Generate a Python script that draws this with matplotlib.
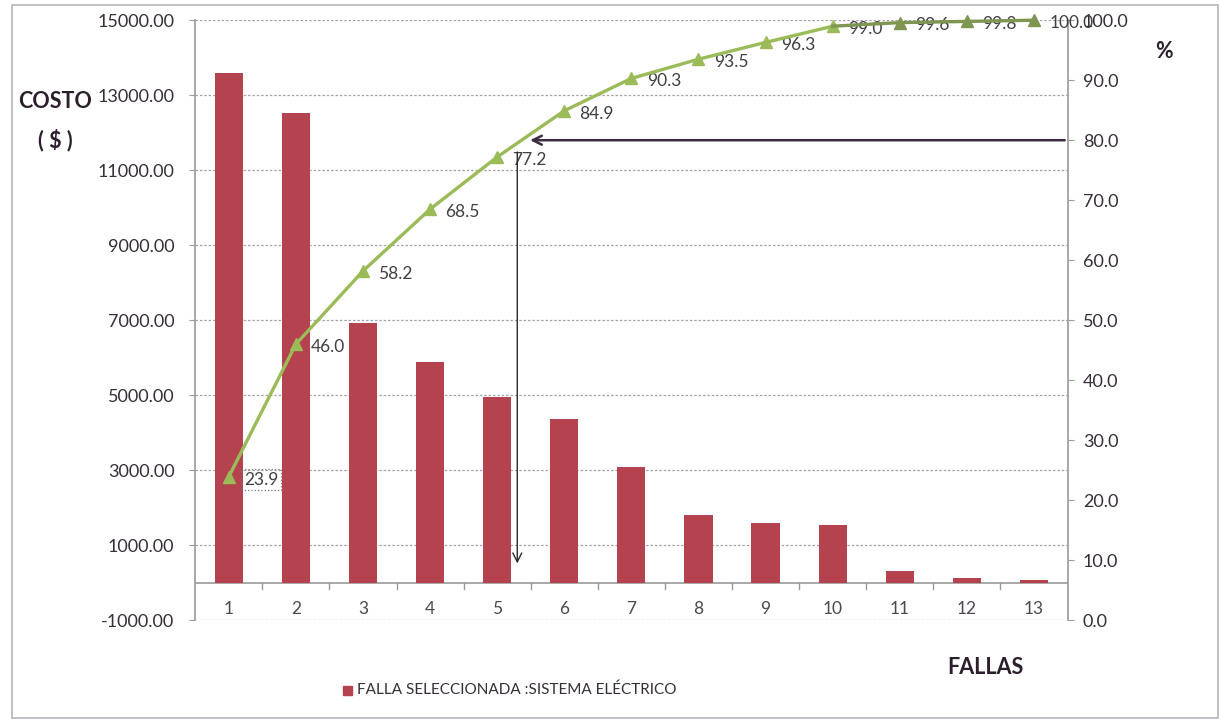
import matplotlib
matplotlib.use("Agg")
import matplotlib.pyplot as plt
from matplotlib.patches import Rectangle

plt.rcParams['font.family'] = ['Lato', 'DejaVu Sans']

# costo por falla y porcentaje acumulado
fallas = [1, 2, 3, 4, 5, 6, 7, 8, 9, 10, 11, 12, 13]
costos = [13600, 12520, 6920, 5880, 4950, 4360, 3080, 1800, 1580, 1540, 300, 120, 80]
acumulado = [23.9, 46.0, 58.2, 68.5, 77.2, 84.9, 90.3, 93.5, 96.3, 99.0, 99.6, 99.8, 100.0]
ticks_costo = [-1000, 1000, 3000, 5000, 7000, 9000, 11000, 13000, 15000]
ticks_pct = [0, 10, 20, 30, 40, 50, 60, 70, 80, 90, 100]
corte_pct = 80

bar_color = '#B5424F'
line_color = '#9BBB59'
dark_olive = '#7E9650'
text_color = '#362e38'
axis_grey = '#9a9a9a'

fig = plt.figure(figsize=(12.2, 7.22), dpi=100)
fig.patches.append(Rectangle((0.010, 0.006), 0.988, 0.987, transform=fig.transFigure,
                             fill=False, edgecolor='#b8b4bc', linewidth=1.2))

ax = fig.add_axes([0.160, 0.141, 0.715, 0.831])
ax.set_xlim(0.5, 13.5)
ax.set_ylim(-1000, 15000)

ax.bar(fallas, costos, width=0.42, color=bar_color, zorder=3)

# grid punteada y eje en cero
for t in ticks_costo:
    ax.axhline(t, color='#a9a0aa', linestyle=(0, (2, 1.5)), linewidth=0.9, zorder=1)
ax.axhline(0, color=axis_grey, linewidth=1.2, zorder=2)
for i in range(len(fallas) - 1):
    ax.plot([fallas[i] + 0.5] * 2, [0, -160], color=axis_grey, linewidth=1, zorder=2)
for f in fallas:
    ax.text(f, -700, str(f), ha='center', va='center', fontsize=12.5, color='#4e474f')

ax.set_yticks(ticks_costo)
ax.set_yticklabels([f'{t:.2f}' for t in ticks_costo], fontsize=13, color=text_color)
ax.set_xticks([])
ax.tick_params(axis='y', length=4, color=axis_grey, pad=11)
for s in ['top', 'bottom', 'right']:
    ax.spines[s].set_visible(False)
ax.spines['left'].set_color(axis_grey)
ax.spines['left'].set_linewidth(1.2)

ax2 = ax.twinx()
ax2.set_ylim(0, 100)
ax2.set_yticks(ticks_pct)
ax2.set_yticklabels([f'{t:.1f}' for t in ticks_pct], fontsize=13, color=text_color)
ax2.tick_params(axis='y', length=4, color=axis_grey, pad=7)
for s in ['top', 'bottom', 'left']:
    ax2.spines[s].set_visible(False)
ax2.spines['right'].set_color(axis_grey)
ax2.spines['right'].set_linewidth(1.2)

ax2.plot(fallas[:10], acumulado[:10], color=line_color, linewidth=2.4, marker='^',
         markersize=9, zorder=4, clip_on=False)
ax2.plot(fallas[9:], acumulado[9:], color=dark_olive, linewidth=2.4, zorder=4, clip_on=False)
ax2.plot(fallas[10:], acumulado[10:], color=dark_olive, linestyle='none', marker='^',
         markersize=9, zorder=5, clip_on=False)

for i, (f, p) in enumerate(zip(fallas, acumulado)):
    box = None
    if i == 0:
        box = dict(boxstyle='square,pad=0.15', fill=False, edgecolor='#777777',
                   linestyle=':', linewidth=0.9)
    ax2.annotate(f'{p:.1f}', (f, p), xytext=(11, -2), textcoords='offset points',
                 ha='left', va='center', fontsize=12.5, color='#404040', zorder=3,
                 annotation_clip=False, bbox=box)

# marca del 80 %
ax2.annotate('', xy=(5.45, corte_pct), xytext=(13.5, corte_pct),
             arrowprops=dict(arrowstyle='->', color='#3b2b3f', lw=1.8,
                             mutation_scale=16), zorder=6)
ax2.annotate('', xy=(5.3, 9), xytext=(5.3, 78.5),
             arrowprops=dict(arrowstyle='->', color='#2a2a2a', lw=1.0,
                             mutation_scale=16), zorder=6)

fig.text(55 / 1220, 1 - 101 / 722, 'COSTO', ha='center', va='center',
         fontsize=15.5, fontweight='bold', color='#2b1f2b')
fig.text(55 / 1220, 1 - 140 / 722, '( $ )', ha='center', va='center',
         fontsize=15.5, fontweight='bold', color='#2b1f2b')
fig.text(1164 / 1220, 1 - 52 / 722, '%', ha='center', va='center',
         fontsize=15.5, fontweight='bold', color='#2b1f2b')
fig.text(985 / 1220, 1 - 668 / 722, 'FALLAS', ha='center', va='center',
         fontsize=15.5, fontweight='bold', color='#2b1f2b')

fig.patches.append(Rectangle((343 / 1220, 1 - 695 / 722), 9 / 1220, 9 / 722,
                             transform=fig.transFigure, color=bar_color))
fig.text(357 / 1220, 1 - 690 / 722, 'FALLA SELECCIONADA :SISTEMA ELÉCTRICO',
         ha='left', va='center', fontsize=11, color=text_color)

fig.savefig('out.png', dpi=100)
